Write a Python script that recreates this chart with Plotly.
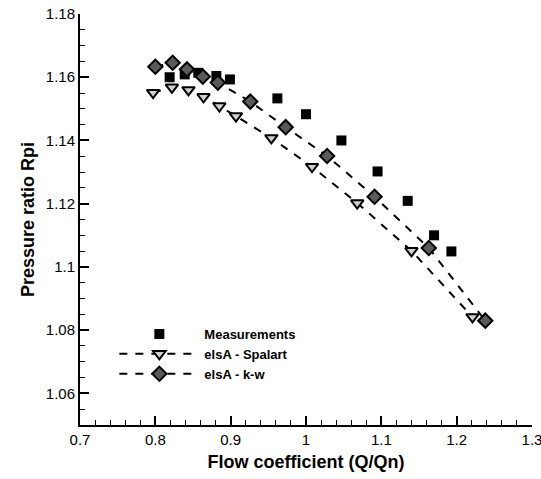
import plotly.graph_objects as go

# Measurements
meas_x = [0.819, 0.839, 0.857, 0.881, 0.899, 0.962, 1.000, 1.047, 1.095, 1.135, 1.170, 1.193]
meas_y = [1.1600, 1.1609, 1.1614, 1.1604, 1.1593, 1.1533, 1.1483, 1.1400, 1.1302, 1.1209, 1.1100, 1.1049]

# elsA - Spalart
sa_x = [0.797, 0.822, 0.844, 0.864, 0.885, 0.907, 0.954, 1.008, 1.068, 1.140, 1.221]
sa_y = [1.1551, 1.1568, 1.1560, 1.1538, 1.1509, 1.1477, 1.1408, 1.1317, 1.1202, 1.1051, 1.0842]

# elsA - k-w
kw_x = [0.800, 0.823, 0.842, 0.863, 0.883, 0.926, 0.973, 1.028, 1.091, 1.163, 1.238]
kw_y = [1.1633, 1.1646, 1.1625, 1.1602, 1.1583, 1.1523, 1.1442, 1.1351, 1.1222, 1.1060, 1.0830]

# Tick values / labels
x_ticks = [0.7, 0.8, 0.9, 1.0, 1.1, 1.2, 1.3]
x_labels = ["0.7", "0.8", "0.9", "1", "1.1", "1.2", "1.3"]
y_ticks = [1.06, 1.08, 1.10, 1.12, 1.14, 1.16, 1.18]
y_labels = ["1.06", "1.08", "1.1", "1.12", "1.14", "1.16", "1.18"]

x_range = [0.7, 1.3]
y_range = [1.05, 1.18]

FONT = "Liberation Sans, Arial, sans-serif"

fig = go.Figure()
fig.add_trace(go.Scatter(
    x=meas_x, y=meas_y, mode="markers", name="Measurements",
    marker=dict(symbol="square", size=10, color="black", line=dict(width=0)),
))
fig.add_trace(go.Scatter(
    x=sa_x, y=sa_y, mode="lines+markers", name="elsA - Spalart",
    line=dict(color="black", width=2, dash="8px,8px"),
    marker=dict(symbol="triangle-down", size=11, color="#d0d0d0",
                line=dict(color="black", width=2)),
))
fig.add_trace(go.Scatter(
    x=kw_x, y=kw_y, mode="lines+markers", name="elsA - k-w",
    line=dict(color="black", width=2, dash="8px,8px"),
    marker=dict(symbol="diamond", size=11, color="#5a5a5a",
                line=dict(color="black", width=2)),
))

axis_common = dict(
    showgrid=False, zeroline=False, showline=True, linecolor="black", linewidth=2,
    ticks="inside", ticklen=9, tickwidth=1.5, tickcolor="black",
    tickfont=dict(family=FONT, size=15, color="black"),
    ticklabeloverflow="allow", automargin=False,
    mirror=False,
)

fig.update_xaxes(
    range=x_range, tickmode="array", tickvals=x_ticks, ticktext=x_labels,
    minor=dict(ticks="inside", ticklen=5, tickwidth=1, tickcolor="black", dtick=0.02, tick0=0.7),
    title=dict(text="<b>Flow coefficient (Q/Qn)</b>", font=dict(family=FONT, size=18, color="black"), standoff=8),
    **axis_common,
)
fig.update_yaxes(
    range=y_range, tickmode="array", tickvals=y_ticks, ticktext=y_labels,
    minor=dict(ticks="inside", ticklen=5, tickwidth=1, tickcolor="black", dtick=0.005, tick0=1.05),
    title=dict(text="<b>Pressure ratio Rpi</b>", font=dict(family=FONT, size=18, color="black"), standoff=6),
    **axis_common,
)

fig.update_layout(
    width=541, height=479,
    margin=dict(l=80, r=9, t=14, b=54),
    plot_bgcolor="white", paper_bgcolor="white",
    font=dict(family=FONT, color="black"),
    showlegend=True,
    legend=dict(
        x=0.076, y=0.258, xanchor="left", yanchor="top",
        bgcolor="rgba(0,0,0,0)", borderwidth=0,
        font=dict(family=FONT, size=13, color="black", weight="bold"),
        itemwidth=80, tracegroupgap=0,
    ),
)

fig.write_html(
    "out.html",
    config={"displayModeBar": False},
    post_script="document.body.style.margin='0';document.body.style.overflow='hidden';",
)
